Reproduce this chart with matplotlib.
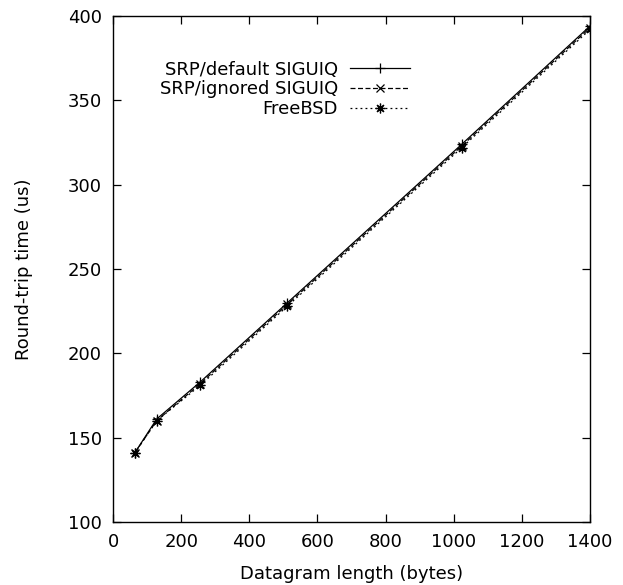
import matplotlib
matplotlib.use("Agg")
import matplotlib.pyplot as plt

plt.rcParams['font.family'] = ['DejaVu Sans']

# datagram sizes and round-trip times (us)
lengths = [64, 128, 256, 512, 1024, 1400]
srp_default = [141, 161, 183, 230, 324, 394]
srp_ignored = [141, 160, 182, 229, 323, 393]
freebsd = [141, 160, 181, 228, 322, 392]

labels = ['SRP/default SIGUIQ', 'SRP/ignored SIGUIQ', 'FreeBSD']
xticks = list(range(0, 1401, 200))
yticks = list(range(100, 401, 50))

fig = plt.figure(figsize=(6.23, 5.85), dpi=100)
ax = fig.add_axes([0.1814, 0.1077, 0.7656, 0.8650])

ax.plot(lengths, srp_default, color='k', lw=0.9, ls='-',
        marker='+', ms=7, mew=0.9, label=labels[0])
ax.plot(lengths, srp_ignored, color='k', lw=0.9, ls=(0, (4, 2)),
        marker='x', ms=6, mew=0.9, label=labels[1])
ax.plot(lengths, freebsd, color='k', lw=0.9, ls=(0, (1.5, 2.5)),
        marker=(8, 2, 0), ms=7, mew=0.9, label=labels[2])

ax.set_xlim(0, 1400)
ax.set_ylim(100, 400)
ax.set_xticks(xticks)
ax.set_yticks(yticks)
ax.tick_params(direction='in', length=5.5, width=0.9, top=True, right=True,
               labelsize=13, pad=8)
for s in ax.spines.values():
    s.set_linewidth(1.0)

ax.set_xlabel('Datagram length (bytes)', fontsize=13)
ax.set_ylabel('Round-trip time (us)', fontsize=13)
ax.xaxis.set_label_coords(0.5, -0.085)
ax.yaxis.set_label_coords(-0.168, 0.5)

leg = ax.legend(loc='upper right', bbox_to_anchor=(0.623, 0.912),
                markerfirst=False, frameon=False, fontsize=13,
                handlelength=3.33, handletextpad=0.67, labelspacing=0.1,
                borderaxespad=0, borderpad=0)

fig.savefig('out.png', dpi=100)
